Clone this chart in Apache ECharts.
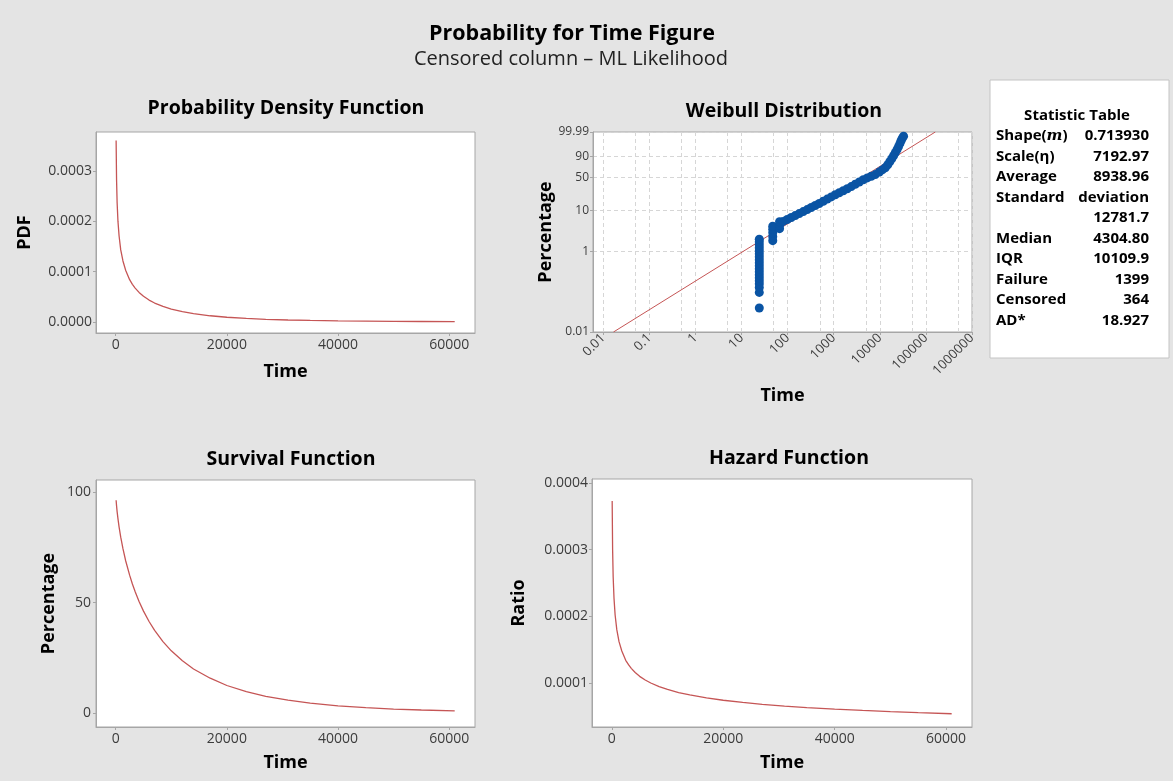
<!DOCTYPE html>
<html>
<head>
<meta charset="utf-8">
<title>Probability for Time Figure</title>
<script src="https://cdn.jsdelivr.net/npm/echarts@6/dist/echarts.min.js"></script>
<style>
  html, body { margin: 0; padding: 0; background: #e4e4e4; }
  #main { width: 1173px; height: 781px; }
</style>
</head>
<body>
<div id="main"></div>
<script>
// fitted curves
const times = [70, 150, 250, 400, 600, 900, 1300, 1800, 2500, 3000, 3500, 4200, 5000, 6000, 7000, 8500, 10000, 12000, 14000, 17000,
  20000, 23500, 27000, 31000, 35000, 40000, 45000, 50000, 55000, 61000]
const pdfValues = [0.000360, 0.000282, 0.000237, 0.000200, 0.000171, 0.000143, 0.000121, 0.000102, 0.0000839, 0.0000746,
  0.0000671, 0.0000586, 0.0000509, 0.0000434, 0.0000375, 0.0000307, 0.0000255, 0.0000203, 0.0000164, 0.0000122,
  0.0000093, 0.0000069, 0.0000052, 0.0000038, 0.0000029, 0.0000020, 0.0000015, 0.00000105, 0.0000008, 0.0000005]
const survivalValues = [96.4, 93.9, 91.3, 88.1, 84.4, 79.7, 74.5, 68.9, 62.5, 58.5, 55.0, 50.6, 46.2, 41.5, 37.5, 32.4, 28.2, 23.7, 20.0, 15.8,
  12.5, 9.7, 7.6, 5.9, 4.5, 3.3, 2.5, 1.8, 1.4, 1.0]
const hazardValues = [0.000373, 0.000300, 0.000259, 0.000227, 0.000202, 0.000180, 0.000162, 0.000148, 0.000134, 0.0001275,
  0.000122, 0.0001158, 0.000110, 0.0001045, 0.000100, 0.0000946, 0.0000903, 0.0000857, 0.0000821, 0.0000776,
  0.0000741, 0.0000708, 0.0000680, 0.0000654, 0.0000631, 0.0000608, 0.0000588, 0.0000570, 0.0000555, 0.0000539]

// weibull probability plot points (time, cumulative %)
const failTimes = [
  24.3, 24.3, 24.3, 24.3, 24.3, 24.3, 24.3, 24.3, 24.3, 24.3, 24.3, 24.3, 24.3, 24.3, 24.3, 24.3, 24.3, 24.3, 24.3,
  47.6, 47.6, 47.6, 47.6, 47.6,
  66.9, 66.9, 66.9,
  80.4, 98.2, 120.0, 146.5, 178.9, 218.5, 266.8, 325.8, 397.9, 485.9, 593.3, 724.4, 884.8, 1080, 1319, 1611, 1968, 2403, 2935,
  3584, 4377, 5345, 6526, 7970, 9734, 11310, 13140, 14880, 16450, 18180, 19890, 21650, 23570, 25410, 27240, 28930, 30710, 32770
]
const failPercents = [
  0.0394, 0.096, 0.128, 0.158, 0.188, 0.223, 0.264, 0.314, 0.372, 0.441, 0.524, 0.621, 0.736, 0.874, 1.037, 1.23, 1.458, 1.729, 1.991,
  1.83, 2.29, 2.87, 3.50, 4.14,
  3.60, 4.38, 5.32,
  5.41, 6.01, 6.72, 7.46, 8.32, 9.28, 10.34, 11.58, 12.89, 14.33, 16.09, 18.04, 20.20, 22.46, 24.81, 27.36, 30.12, 33.40, 37.10,
  41.06, 45.09, 48.74, 51.92, 55.38, 60.79, 65.21, 69.80, 75.85, 81.49, 86.50, 90.71, 94.05, 96.49, 98.12, 99.11, 99.63, 99.84, 99.93
]
const fitLineTimes = [0.0167, 159700]
const fitLinePercents = [0.01, 99.99]

// axis ticks
const timeTicks = [0, 20000, 40000, 60000]
const pdfTicks = [0, 0.0001, 0.0002, 0.0003]
const survivalTicks = [0, 50, 100]
const hazardTicks = [0.0001, 0.0002, 0.0003, 0.0004]
const weibullTimeTicks = [0.01, 0.1, 1, 10, 100, 1000, 10000, 100000, 1000000]
const weibullGridTimes = [0.01, 0.05, 0.1, 0.5, 1, 5, 10, 50, 100, 500, 1000, 5000, 10000, 50000, 100000, 500000, 1000000]
const weibullPercentTicks = [0.01, 1, 10, 50, 90, 99.99]

const statLabels = ['Shape(m)', 'Scale(η)', 'Average', 'Standard', '', 'Median', 'IQR', 'Failure', 'Censored', 'AD*']
const statValues = ['0.713930', '7192.97', '8938.96', 'deviation', '12781.7', '4304.80', '10109.9', '1399', '364', '18.927']

const FONT = "'Open Sans', 'Noto Sans', sans-serif"
const RED = '#c55555'
const BLUE = '#0a54a4'
const BORDER = '#a6a6a6'
const LABEL = '#3c3c3c'

const weibullScore = p => Math.log(-Math.log(1 - p / 100))
const percentFromScore = s => (1 - Math.exp(-Math.exp(s))) * 100

const chart = echarts.init(document.getElementById('main'))

const gridBox = (left, top, width, height) => ({
  left, top, width, height,
  show: true,
  backgroundColor: '#fff',
  borderColor: BORDER,
  borderWidth: 1
})

const baseAxis = (extra) => Object.assign({
  type: 'value',
  axisLine: { show: true, onZero: false, lineStyle: { color: BORDER } },
  splitLine: { show: false },
  nameLocation: 'middle',
  nameTextStyle: { color: '#000', fontSize: 18, fontWeight: 'bold', fontFamily: FONT }
}, extra)

const ticks = (values) => ({ show: true, length: 3, lineStyle: { color: BORDER }, customValues: values })

const timeAxis = (gridIndex, nameGap) => baseAxis({
  gridIndex,
  min: -3550,
  max: 64650,
  name: 'Time',
  nameGap,
  axisTick: ticks(timeTicks),
  axisLabel: { color: LABEL, fontSize: 14, fontFamily: FONT, margin: 5, customValues: timeTicks, formatter: v => String(v) }
})

const lineSeries = (idx, values) => ({
  type: 'line',
  xAxisIndex: idx,
  yAxisIndex: idx,
  showSymbol: false,
  lineStyle: { color: RED, width: 1.3 },
  data: times.map((t, i) => [t, values[i]])
})

const panelTitle = (text, x, y) => ({
  type: 'text',
  x, y,
  style: { text, fill: '#000', font: `bold 19.5px ${FONT}`, align: 'center', verticalAlign: 'middle' }
})

const statRows = []
statLabels.forEach((label, i) => {
  const y = 136 + i * 20.5
  let text = label
  if (label === 'Shape(m)') text = '{b|Shape(}{i|m}{b|)}'
  statRows.push({
    type: 'text', x: 996, y,
    style: {
      text, fill: '#000', font: `bold 15px ${FONT}`, verticalAlign: 'middle',
      rich: {
        b: { font: `bold 15px ${FONT}`, fill: '#000' },
        i: { font: `italic bold 15px 'DejaVu Serif', serif`, fill: '#000' }
      }
    }
  })
  statRows.push({
    type: 'text', x: 1149, y,
    style: { text: statValues[i], fill: '#000', font: `bold 15px ${FONT}`, align: 'right', verticalAlign: 'middle' }
  })
})

const option = {
  backgroundColor: '#e4e4e4',
  animation: false,
  textStyle: { fontFamily: FONT },
  graphic: [
    { type: 'text', x: 572, y: 34, style: { text: 'Probability for Time Figure', fill: '#000', font: `bold 21.5px ${FONT}`, align: 'center', verticalAlign: 'middle' } },
    { type: 'text', x: 571, y: 59, style: { text: 'Censored column – ML Likelihood', fill: '#222', font: `20px ${FONT}`, align: 'center', verticalAlign: 'middle' } },
    panelTitle('Probability Density Function', 286, 108),
    panelTitle('Weibull Distribution', 784, 111),
    panelTitle('Survival Function', 291, 459),
    panelTitle('Hazard Function', 789, 458),
    { type: 'rect', shape: { x: 990, y: 80, width: 179, height: 278 }, style: { fill: '#fff', stroke: '#c4c4c4', lineWidth: 1 } },
    { type: 'text', x: 1077, y: 116, style: { text: 'Statistic Table', fill: '#000', font: `bold 15px ${FONT}`, align: 'center', verticalAlign: 'middle' } },
    ...statRows
  ],
  grid: [
    gridBox(96, 132, 379, 201),
    gridBox(593, 132, 379, 200),
    gridBox(96, 480, 379, 247),
    gridBox(592, 479, 380, 248)
  ],
  xAxis: [
    timeAxis(0, 30),
    baseAxis({
      gridIndex: 1,
      min: Math.log10(0.006),
      max: 6,
      name: 'Time',
      nameGap: 55,
      axisTick: ticks(weibullTimeTicks.map(Math.log10)),
      axisLabel: {
        color: LABEL, fontSize: 13, fontFamily: FONT, margin: 4, rotate: 45,
        customValues: weibullTimeTicks.map(Math.log10),
        formatter: v => String(parseFloat(Math.pow(10, v).toPrecision(3)))
      }
    }),
    timeAxis(2, 27),
    timeAxis(3, 27),
    {
      type: 'value',
      gridIndex: 1,
      position: 'top',
      min: Math.log10(0.006),
      max: 6,
      axisLine: { show: false },
      axisLabel: { show: false },
      axisTick: { show: false, customValues: weibullGridTimes.map(Math.log10) },
      splitLine: { show: true, lineStyle: { color: '#d6d6d6', type: [4, 3], width: 1 } }
    }
  ],
  yAxis: [
    baseAxis({
      gridIndex: 0,
      min: -0.000022,
      max: 0.000377,
      name: 'PDF',
      nameGap: 62,
      axisTick: ticks(pdfTicks),
      axisLabel: { color: LABEL, fontSize: 14, fontFamily: FONT, margin: 4, customValues: pdfTicks, formatter: v => v.toFixed(4) }
    }),
    baseAxis({
      gridIndex: 1,
      min: weibullScore(0.01),
      max: weibullScore(99.99),
      name: 'Percentage',
      nameGap: 35,
      axisTick: ticks(weibullPercentTicks.map(weibullScore)),
      axisLabel: {
        color: LABEL, fontSize: 12, fontFamily: FONT, margin: 4,
        customValues: weibullPercentTicks.map(weibullScore),
        formatter: v => String(parseFloat(percentFromScore(v).toPrecision(4)))
      },
      splitLine: { show: true, lineStyle: { color: '#d6d6d6', type: [4, 3], width: 1 } }
    }),
    baseAxis({
      gridIndex: 2,
      min: -6.3,
      max: 105.6,
      name: 'Percentage',
      nameGap: 38,
      axisTick: ticks(survivalTicks),
      axisLabel: { color: LABEL, fontSize: 14, fontFamily: FONT, margin: 5, customValues: survivalTicks }
    }),
    baseAxis({
      gridIndex: 3,
      min: 0.000034,
      max: 0.000406,
      name: 'Ratio',
      nameGap: 64,
      axisTick: ticks(hazardTicks),
      axisLabel: { color: LABEL, fontSize: 14, fontFamily: FONT, margin: 4, customValues: hazardTicks, formatter: v => v.toFixed(4) }
    })
  ],
  series: [
    lineSeries(0, pdfValues),
    lineSeries(2, survivalValues),
    lineSeries(3, hazardValues),
    {
      type: 'line',
      xAxisIndex: 1,
      yAxisIndex: 1,
      showSymbol: false,
      lineStyle: { color: RED, width: 1 },
      data: fitLineTimes.map((t, i) => [Math.log10(t), weibullScore(fitLinePercents[i])]),
      z: 2
    },
    {
      type: 'scatter',
      xAxisIndex: 1,
      yAxisIndex: 1,
      symbolSize: 9,
      itemStyle: { color: BLUE, opacity: 1 },
      data: failTimes.map((t, i) => [Math.log10(t), weibullScore(failPercents[i])]),
      z: 3
    }
  ]
}

chart.setOption(option)
</script>
</body>
</html>
